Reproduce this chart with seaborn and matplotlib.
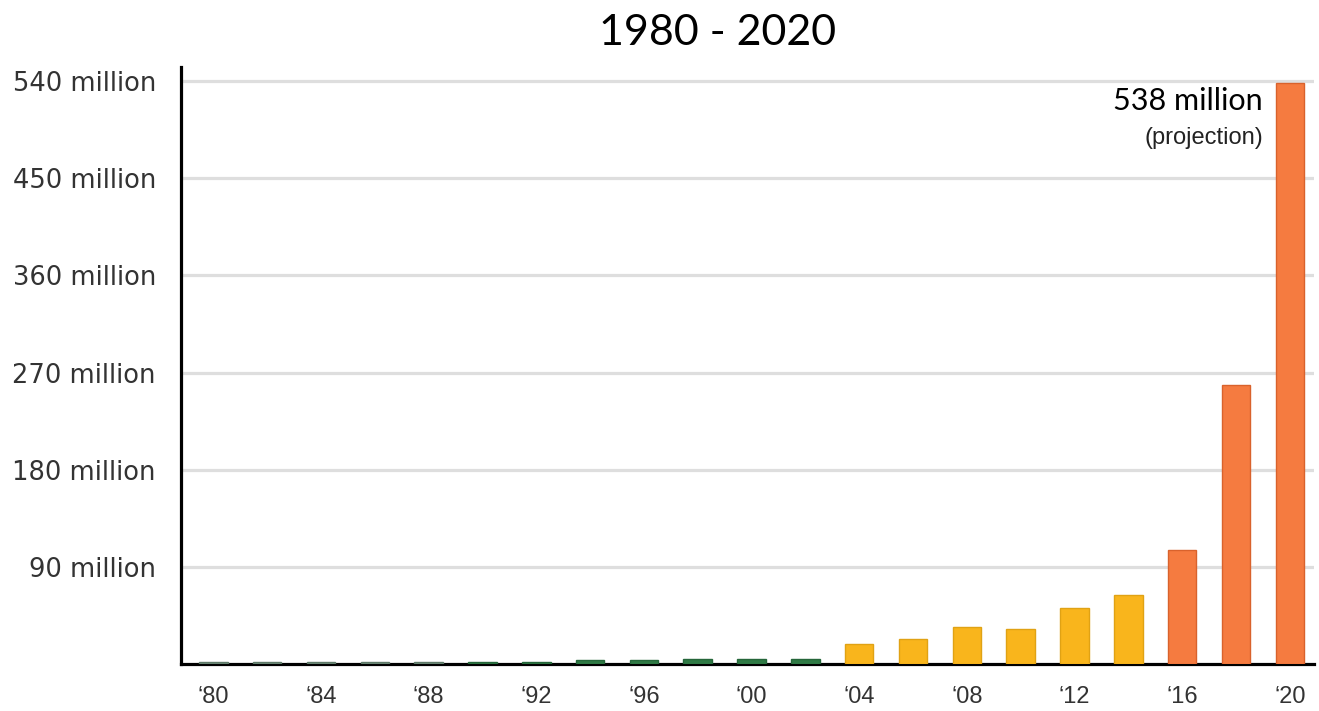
import seaborn as sns
import pandas as pd
import matplotlib.pyplot as plt

#-----------------------------------------------------------------------------------------------------------------------
"""Data"""
years = [str(y) for y in range(1980, 2021, 2)]
values = [1.5, 1.5, 1.5, 1.5, 1.5, 2, 2, 3.5, 3.5, 4.5, 4.5, 5,
          18.5, 23, 34, 32, 52, 64,
          106, 258, 538]
era = ['early'] * 5 + ['green'] * 7 + ['yellow'] * 6 + ['orange'] * 3
tick_years = years[::2]
tick_labels = ['\u2018' + y[2:] for y in tick_years]
y_ticks = [90, 180, 270, 360, 450, 540]

df = pd.DataFrame({'year': years, 'value': values, 'era': era})

#-----------------------------------------------------------------------------------------------------------------------
"""Figure"""
sns.set_style('white')
fig, ax = plt.subplots(figsize=(13.19, 7.11), dpi=100)
fig.subplots_adjust(left=181/1319, right=1314/1319, bottom=1-664/711, top=1-67/711)

fill = {'early': '#6f8c7a', 'green': '#2f7a45', 'yellow': '#f9b51c', 'orange': '#f57b40'}
edge = {'early': '#5f7a69', 'green': '#25663a', 'yellow': '#e0a214', 'orange': '#d9622c'}

sns.barplot(data=df, x='year', y='value', hue='era', palette=fill, order=years,
            dodge=False, width=0.53, saturation=1, legend=False, ax=ax, zorder=3)

for bar, e in zip(sorted(ax.patches, key=lambda p: p.get_x()), era):
    bar.set_edgecolor(edge[e])
    bar.set_linewidth(1)

#-----------------------------------------------------------------------------------------------------------------------
"""Axes"""
ax.set_xlim(-0.6, len(years) - 0.55)
ax.set_ylim(0, 553)
ax.set_yticks(y_ticks)
ax.set_yticklabels([f'{v} million' for v in y_ticks], fontsize=18.5, color='#333333', fontfamily='DejaVu Sans')
ax.set_xticks([years.index(y) for y in tick_years])
ax.set_xticklabels(tick_labels, fontsize=17, color='#333333', fontfamily='Liberation Sans')
ax.tick_params(axis='both', length=0)
ax.tick_params(axis='y', pad=18)
ax.tick_params(axis='x', pad=16)
ax.set_xlabel('')
ax.set_ylabel('')

ax.yaxis.grid(True, color='#dedede', linewidth=2.3, zorder=0)
ax.set_axisbelow(True)
for s in ['top', 'right']:
    ax.spines[s].set_visible(False)
for s in ['left', 'bottom']:
    ax.spines[s].set_color('black')
    ax.spines[s].set_linewidth(2.3)

#-----------------------------------------------------------------------------------------------------------------------
"""Text"""
fig.text(718/1319, 1-33/711, '1980 - 2020', ha='center', va='center', fontsize=31, fontfamily='Lato', color='black')

last = len(years) - 1
ax.annotate(f'{values[-1]} million', xy=(last, values[-1]), xytext=(-27, -18), textcoords='offset pixels',
            ha='right', va='center', fontsize=22, fontfamily='Lato', color='black')
ax.annotate('(projection)', xy=(last, values[-1]), xytext=(-27, -55), textcoords='offset pixels',
            ha='right', va='center', fontsize=17, fontfamily='Liberation Sans', color='#222222')

fig.savefig('out.png', dpi=100, facecolor='white')
